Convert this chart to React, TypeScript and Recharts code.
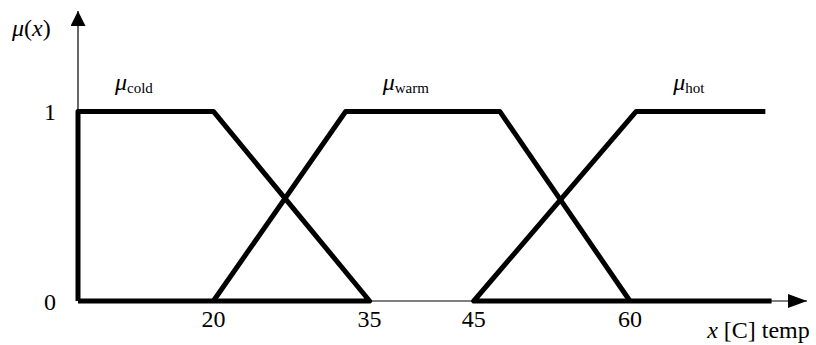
import React from 'react';
import { LineChart, Line, XAxis, YAxis, ReferenceDot } from 'recharts';

// membership functions, breakpoints as (x, mu) pairs
const coldPoints = [
  { x: 7, y: 0 },
  { x: 7, y: 1 },
  { x: 20, y: 1 },
  { x: 35, y: 0 },
  { x: 7, y: 0 },
];
const warmPoints = [
  { x: 20, y: 0 },
  { x: 32.7, y: 1 },
  { x: 47.5, y: 1 },
  { x: 60, y: 0 },
];
const hotPoints = [
  { x: 73, y: 1 },
  { x: 60.6, y: 1 },
  { x: 45, y: 0 },
  { x: 73.6, y: 0 },
];

const xTicks = [20, 35, 45, 60];
const yTicks = [0, 1];
const xDomain = [7, 76.5];
const yDomain = [0, 1.53];

// curve names, placed above the start of each plateau
const curveLabels = [
  { sub: 'cold', plateauStart: 7 },
  { sub: 'warm', plateauStart: 32.7 },
  { sub: 'hot', plateauStart: 60.6 },
];

const FONT = "'Times New Roman', 'Liberation Serif', Tinos, 'DejaVu Serif', serif";

const MuLabel = ({ cx, cy, sub }: { cx?: number; cy?: number; sub: string }) => (
  <text x={(cx ?? 0) + 37} y={(cy ?? 0) - 21} style={{ fontFamily: FONT }} fontSize={24} fill="#000">
    <tspan fontStyle="italic">μ</tspan>
    <tspan fontSize={15} dy={3}>{sub}</tspan>
  </text>
);

const App = () => {
  const lineProps = {
    type: 'linear' as const,
    dataKey: 'y',
    stroke: '#000',
    strokeWidth: 5,
    strokeLinejoin: 'round' as const,
    dot: false,
    activeDot: false,
    isAnimationActive: false,
  };

  return (
    <div style={{ position: 'absolute', left: 0, top: 0, background: '#fff', fontFamily: FONT }}>
      <LineChart width={816} height={345} margin={{ top: 11, right: 9, left: 0, bottom: 0 }}>
        <defs>
          <marker
            id="arrowY"
            markerUnits="userSpaceOnUse"
            markerWidth={15}
            markerHeight={15}
            refX={15}
            refY={7.5}
            orient="auto-start-reverse"
          >
            <path d="M0,0 L15,7.5 L0,15 Z" fill="#000" />
          </marker>
          <marker
            id="arrowX"
            markerUnits="userSpaceOnUse"
            markerWidth={19}
            markerHeight={14}
            refX={19}
            refY={7}
            orient="auto"
          >
            <path d="M0,0 L19,7 L0,14 Z" fill="#000" />
          </marker>
        </defs>
        <XAxis
          dataKey="x"
          type="number"
          domain={xDomain}
          ticks={xTicks}
          height={44}
          tickSize={0}
          tickMargin={9}
          axisLine={{ stroke: '#000', strokeWidth: 1.2, markerEnd: 'url(#arrowX)' }}
          tick={{ fill: '#000', fontSize: 24, style: { fontFamily: FONT } }}
          allowDecimals={false}
        />
        <YAxis
          type="number"
          domain={yDomain}
          ticks={yTicks}
          width={78}
          tickSize={0}
          tickMargin={22}
          axisLine={{ stroke: '#000', strokeWidth: 1.2, markerStart: 'url(#arrowY)' }}
          tick={{ fill: '#000', fontSize: 24, style: { fontFamily: FONT } }}
        />
        <Line {...lineProps} data={coldPoints} />
        <Line {...lineProps} data={warmPoints} />
        <Line {...lineProps} data={hotPoints} />
        {curveLabels.map((c) => (
          <ReferenceDot
            key={c.sub}
            x={c.plateauStart}
            y={1}
            shape={(p: any) => <MuLabel cx={p.cx} cy={p.cy} sub={c.sub} />}
          />
        ))}
        {/* y axis title, anchored at the top of the axis */}
        <ReferenceDot
          x={xDomain[0]}
          y={yDomain[1]}
          shape={(p: any) => (
            <text x={p.cx - 66} y={p.cy + 25} style={{ fontFamily: FONT }} fontSize={24} fill="#000">
              <tspan fontStyle="italic">μ</tspan>(<tspan fontStyle="italic">x</tspan>)
            </text>
          )}
        />
        {/* x axis title, under the arrow */}
        <ReferenceDot
          x={xDomain[1]}
          y={0}
          shape={(p: any) => (
            <text
              x={p.cx + 8}
              y={p.cy + 37}
              textAnchor="end"
              style={{ fontFamily: FONT }}
              fontSize={24}
              fill="#000"
            >
              <tspan fontStyle="italic">x</tspan> [C] temp
            </text>
          )}
        />
      </LineChart>
    </div>
  );
};

export default App;
